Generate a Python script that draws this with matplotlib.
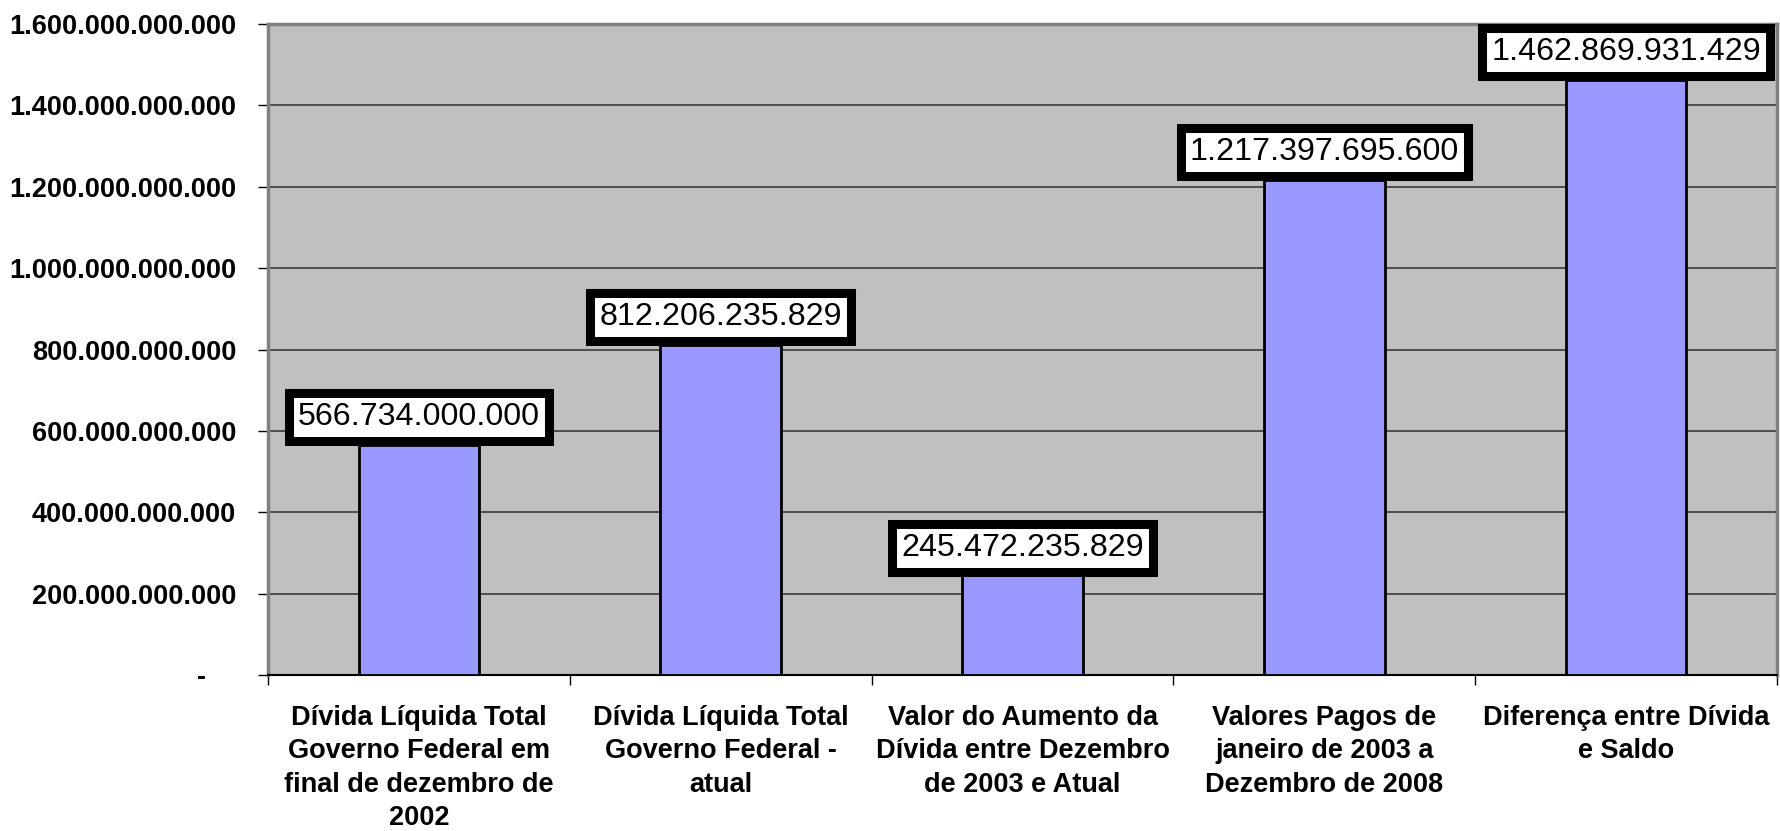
import matplotlib
matplotlib.use("Agg")
import matplotlib.pyplot as plt
import numpy as np
from matplotlib.ticker import FixedLocator, FuncFormatter

categories = [
    "Dívida Líquida Total\nGoverno Federal em\nfinal de dezembro de\n2002",
    "Dívida Líquida Total\nGoverno Federal -\natual",
    "Valor do Aumento da\nDívida entre Dezembro\nde 2003 e Atual",
    "Valores Pagos de\njaneiro de 2003 a\nDezembro de 2008",
    "Diferença entre Dívida\ne Saldo",
]
values = [566734000000, 812206235829, 245472235829, 1217397695600, 1462869931429]
yticks = [0, 200e9, 400e9, 600e9, 800e9, 1000e9, 1200e9, 1400e9, 1600e9]

def br_fmt(v):
    return f"{int(round(v)):,}".replace(",", ".")

plt.rcParams['font.family'] = ['Liberation Sans', 'DejaVu Sans']

fig = plt.figure(figsize=(17.8, 8.31), dpi=100)
ax = fig.add_axes([0.1506, 0.1873, 0.9983 - 0.1506, 0.9714 - 0.1873])
ax.set_facecolor('#C0C0C0')

x = np.arange(len(categories))
ax.bar(x, values, width=0.4, color='#9999FF', edgecolor='black', linewidth=2, zorder=3)

ax.set_xlim(-0.5, len(categories) - 0.5)
ax.set_ylim(0, 1.6e12)

ax.yaxis.set_major_locator(FixedLocator(yticks))
ax.yaxis.set_major_formatter(FuncFormatter(lambda v, p: "-    " if v == 0 else br_fmt(v)))
ax.grid(axis='y', color='#3a3a3a', linewidth=1.2, zorder=1)
ax.set_axisbelow(True)

ax.set_xticks(x)
ax.set_xticklabels(categories, fontsize=19.5, fontweight='bold', linespacing=1.36)
ax.set_xticks(np.arange(-0.5, len(categories)), minor=True)
ax.tick_params(axis='x', which='major', length=0, pad=21.5)
ax.tick_params(axis='x', which='minor', length=7, width=1, direction='out', color='black')
ax.tick_params(axis='y', length=7, width=1, direction='out', pad=16, labelsize=19.5)
for lbl in ax.get_yticklabels():
    lbl.set_fontweight('bold')

for s in ['top', 'right', 'left']:
    ax.spines[s].set_color('#808080')
    ax.spines[s].set_linewidth(2.5)
ax.spines['bottom'].set_color('black')
ax.spines['bottom'].set_linewidth(1.5)

fs = 23.2
pad = 0.28
lw = 6.5
off = (pad * fs) + lw / 2 - 0.5
for xi, v in zip(x, values):
    ax.annotate(br_fmt(v), xy=(xi, v), xytext=(0, off), textcoords='offset points',
                ha='center', va='bottom', fontsize=fs, color='black', zorder=5,
                annotation_clip=False,
                bbox=dict(boxstyle=f'square,pad={pad}', facecolor='white',
                          edgecolor='black', linewidth=lw))

fig.savefig('out.png', dpi=100)
